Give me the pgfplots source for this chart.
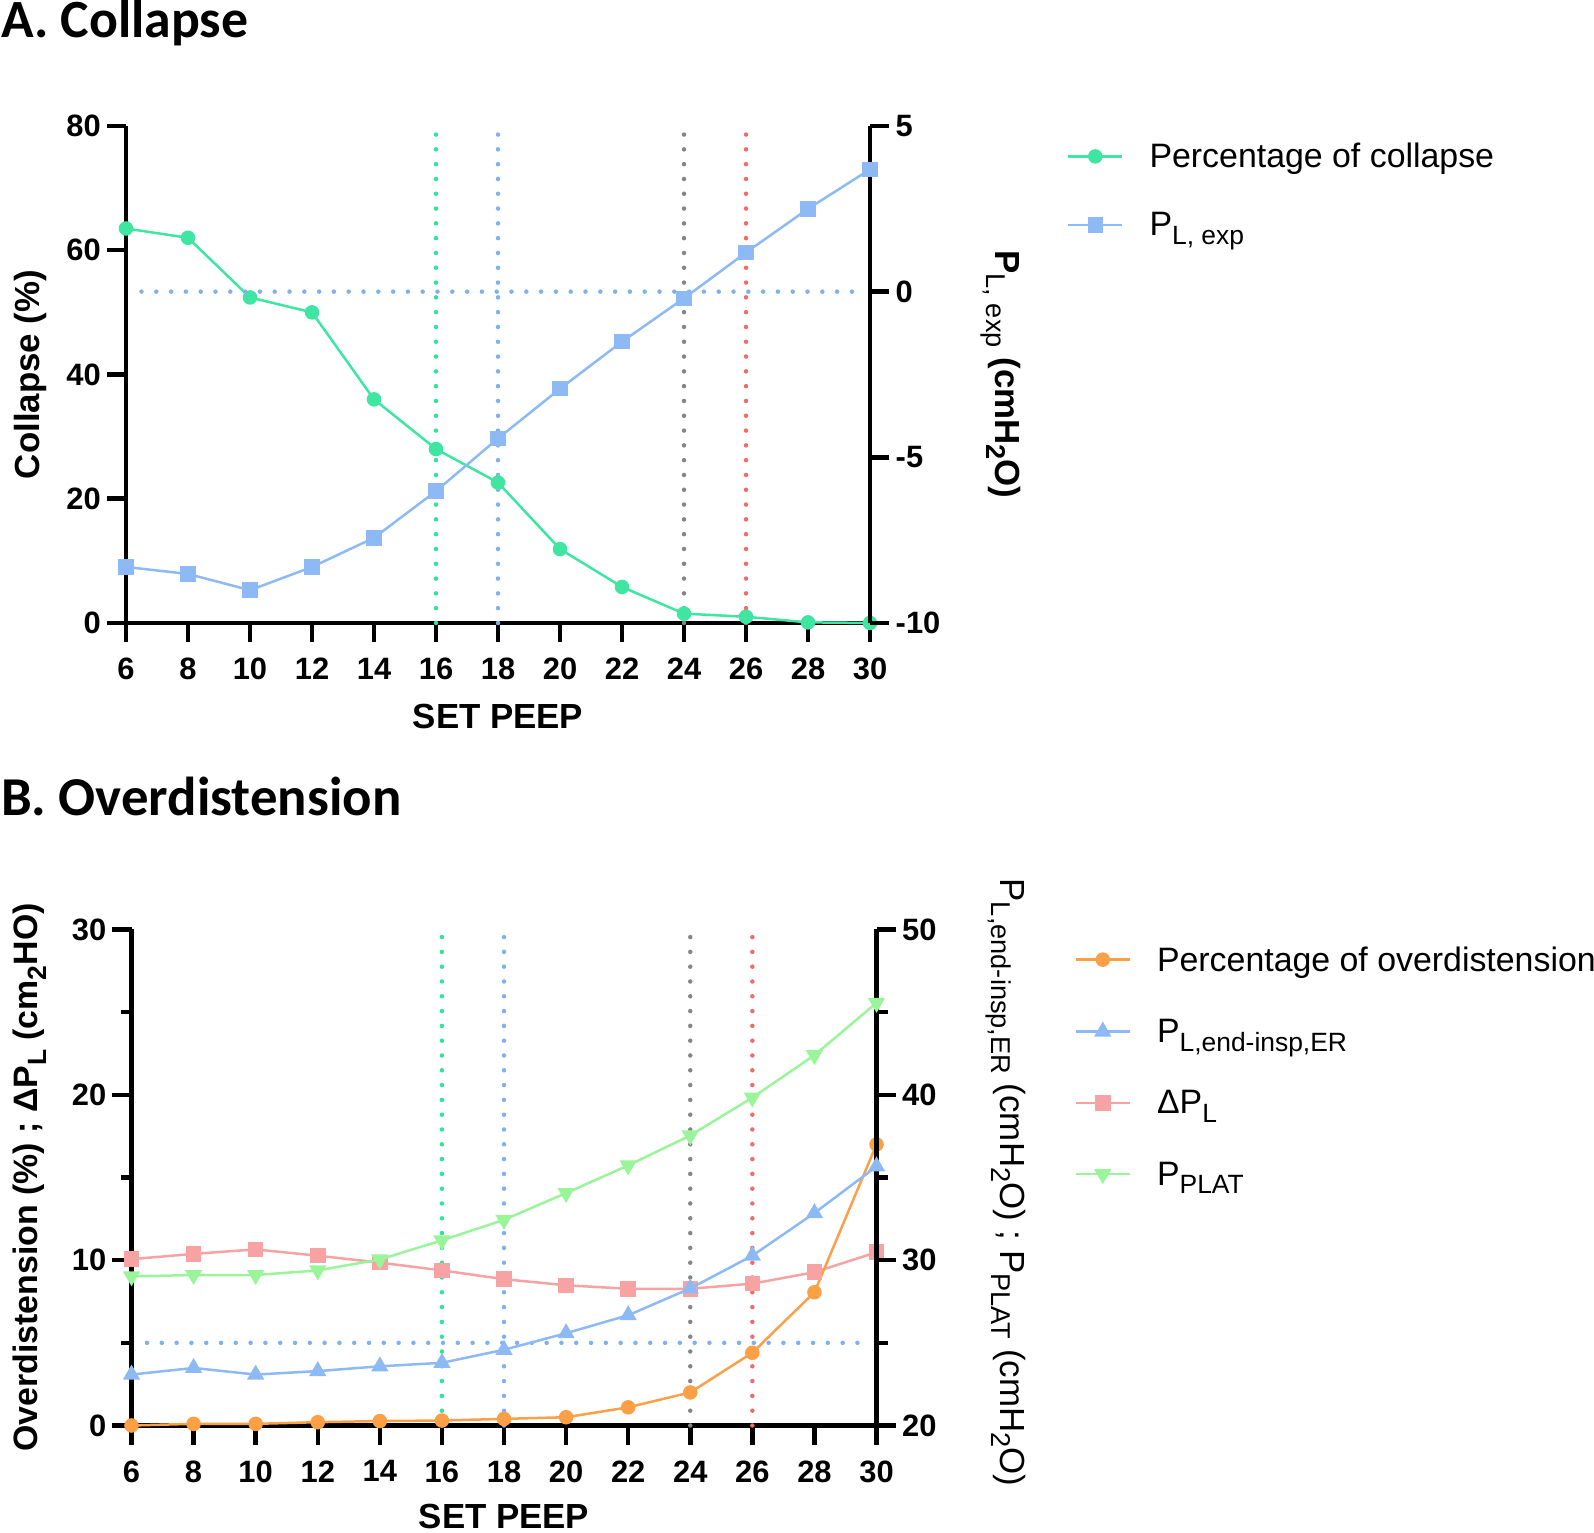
\documentclass[border=0pt]{standalone}
\usepackage{fontspec}
\setmainfont{Liberation Sans}
\newfontfamily\titlefont{Carlito}
\usepackage{graphicx}
\usepackage{pgfplots}
\pgfplotsset{compat=1.18}
\definecolor{cgreen}{HTML}{3EE6A2}
\definecolor{cblue}{HTML}{8DBAF4}
\definecolor{corange}{HTML}{FCA048}
\definecolor{cpink}{HTML}{F7A3A3}
\definecolor{clgreen}{HTML}{9AF59A}
\definecolor{dgreen}{HTML}{2EE59A}
\definecolor{dblue}{HTML}{7FB0F0}
\definecolor{dgray}{HTML}{858585}
\definecolor{dred}{HTML}{F26A6A}
\newcommand{\sub}[1]{\raisebox{-0.26em}{\scalebox{0.78}{#1}}}
\pgfplotsset{
  base/.style={
    scale only axis, xmin=6, xmax=30, xtick={6,8,...,30},
    axis line style={line width=4.5bp,-},
    tick style={line width=4.5bp, black},
    major tick length=19bp, minor tick length=11bp,
    tick align=outside,
    tick label style={font=\fontsize{31}{36}\selectfont\bfseries},
    label style={font=\fontsize{35}{42}\selectfont\bfseries},
    /pgf/number format/assume math mode=true,
    clip=false,
    xlabel style={at={(axis description cs:0.5,-0.1875)}, anchor=center, inner sep=0pt},
    xticklabel style={anchor=north, inner sep=0pt, yshift=-16bp},
    legend image code/.code={\draw[mark repeat=2, mark phase=2] plot coordinates {(0bp,0bp) (27bp,0bp) (54bp,0bp)};},
  },
  leg/.style={legend style={draw=none, fill=none, inner sep=0pt, outer sep=0pt, anchor=north west,
      font=\fontsize{34}{40}\selectfont, nodes={inner sep=0pt},
      /tikz/every odd column/.append style={column sep=26bp}}, legend cell align=left},
  dotln/.style={line width=4.5bp, line cap=round, dash pattern=on 0pt off 14.8bp},
  ser/.style={line width=2.5bp, mark options={solid}},
}
\begin{document}
\begin{tikzpicture}[x=1bp,y=1bp]
\path[use as bounding box] (0,0) rectangle (1594,1533);
\node[anchor=base west, inner sep=0pt, font=\titlefont\bfseries\fontsize{54}{64}\selectfont] at (1,1495.4) {A. Collapse};
\node[anchor=base west, inner sep=0pt, font=\titlefont\bfseries\fontsize{55}{64}\selectfont] at (1,717) {B. Overdistension};

% ---------- Panel A, left axis ----------
\begin{axis}[base, at={(126bp,910bp)}, anchor=south west, width=744bp, height=497bp,
  axis x line*=bottom, axis y line*=left,
  ymin=0, ymax=80, ytick={0,20,40,60,80},
  xlabel={SET PEEP}, ylabel={Collapse (\%)},
  ylabel style={at={(axis description cs:-0.129,0.5)}, anchor=center},
  yticklabel style={anchor=east, inner sep=0pt, xshift=-6bp},
]
\addplot[dotln, dgreen] coordinates {(16,0) (16,80)};
\addplot[dotln, dblue] coordinates {(18,0) (18,80)};
\addplot[dotln, dgray] coordinates {(24,0) (24,80)};
\addplot[dotln, dred] coordinates {(26,0) (26,80)};
\addplot[ser, cgreen, mark=*, mark size=6bp] coordinates {
(6,63.5) (8,62.0) (10,52.4) (12,50.0) (14,36.0) (16,28.0) (18,22.6) (20,11.9) (22,5.8) (24,1.5) (26,1.0) (28,0.1) (30,0)};
\end{axis}

% ---------- Panel A, right axis ----------
\begin{axis}[base, leg, at={(126bp,910bp)}, anchor=south west, width=744bp, height=497bp,
  axis x line=none, axis y line*=right,
  ymin=-10, ymax=5, ytick={-10,-5,0,5},
  ylabel={P\sub{\mdseries L, exp} (cmH\sub{2}O)},
  ylabel style={at={(axis description cs:1.176,0.5)}, anchor=center, rotate=180},
  yticklabel style={anchor=west, inner sep=0pt, xshift=6.5bp},
  legend style={at={(axis description cs:1.2648,0.965)}, row sep=43bp},
]
\addplot[dotln, dblue, forget plot] coordinates {(6.5,0) (29.7,0)};
\addlegendimage{ser, cgreen, mark=*, mark size=6bp}
\addlegendentry{Percentage of collapse}
\addplot[ser, cblue, mark=square*, mark size=6.5bp] coordinates {
(6,-8.31) (8,-8.52) (10,-9.01) (12,-8.31) (14,-7.43) (16,-6.02) (18,-4.43) (20,-2.93) (22,-1.51) (24,-0.2) (26,1.18) (28,2.5) (30,3.69)};
\addlegendentry{P\sub{L, exp}}
\end{axis}

% ---------- Panel B, left axis ----------
\begin{axis}[base, at={(131.5bp,107.5bp)}, anchor=south west, width=745bp, height=496bp,
  axis x line*=bottom, axis y line*=left,
  ymin=0, ymax=30, ytick={0,10,20,30}, minor y tick num=1,
  xlabel={SET PEEP},
  xlabel style={at={(axis description cs:0.5,-0.183)}},
  ylabel={\fontsize{34}{40}\selectfont Overdistension (\%) ; ΔP\sub{L} (cm\sub{2}HO)},
  ylabel style={at={(axis description cs:-0.137,0.5)}, anchor=center},
  yticklabel style={anchor=east, inner sep=0pt, xshift=-6bp},
]
\addplot[dotln, dgreen] coordinates {(16,0) (16,30)};
\addplot[dotln, dblue] coordinates {(18,0) (18,30)};
\addplot[dotln, dgray] coordinates {(24,0) (24,30)};
\addplot[dotln, dred] coordinates {(26,0) (26,30)};
\addplot[dotln, dblue] coordinates {(6.5,5) (29.6,5)};
\addplot[ser, cpink, mark=square*, mark size=6.5bp] coordinates {
(6,10.06) (8,10.38) (10,10.65) (12,10.27) (14,9.85) (16,9.38) (18,8.85) (20,8.48) (22,8.27) (24,8.27) (26,8.58) (28,9.27) (30,10.48)};
\addplot[ser, corange, mark=*, mark size=6bp] coordinates {
(6,0) (8,0.1) (10,0.1) (12,0.2) (14,0.27) (16,0.3) (18,0.4) (20,0.5) (22,1.1) (24,2.0) (26,4.4) (28,8.06) (30,17.0)};
\end{axis}

% ---------- Panel B, right axis ----------
\begin{axis}[base, leg, at={(131.5bp,107.5bp)}, anchor=south west, width=745bp, height=496bp,
  axis x line=none, axis y line*=right,
  ymin=20, ymax=50, ytick={20,30,40,50}, minor y tick num=1,
  ylabel={\mdseries P\sub{L,end-insp,ER} (cmH\sub{2}O) ; P\sub{PLAT} (cmH\sub{2}O)},
  ylabel style={at={(axis description cs:1.174,0.49)}, anchor=center, rotate=180},
  yticklabel style={anchor=west, inner sep=0pt, xshift=6.5bp},
  legend style={at={(axis description cs:1.2658,0.9655)}, row sep=46.5bp},
]
\addlegendimage{ser, corange, mark=*, mark size=6bp}
\addlegendentry{Percentage of overdistension}
\addplot[ser, cblue, mark=triangle*, mark size=7.5bp] coordinates {
(6,23.08) (8,23.48) (10,23.08) (12,23.29) (14,23.58) (16,23.79) (18,24.58) (20,25.58) (22,26.67) (24,28.29) (26,30.27) (28,32.85) (30,35.67)};
\addlegendentry{P\sub{L,end-insp,ER}}
\addlegendimage{ser, cpink, mark=square*, mark size=6.5bp}
\addlegendentry{ΔP\sub{L}}
\addplot[ser, clgreen, mark=triangle*, mark size=7.5bp, mark options={rotate=180}] coordinates {
(6,29.02) (8,29.1) (10,29.1) (12,29.38) (14,30.04) (16,31.2) (18,32.44) (20,34.06) (22,35.73) (24,37.54) (26,39.83) (28,42.4) (30,45.56)};
\addlegendentry{P\sub{PLAT}}
\end{axis}
\end{tikzpicture}
\end{document}
